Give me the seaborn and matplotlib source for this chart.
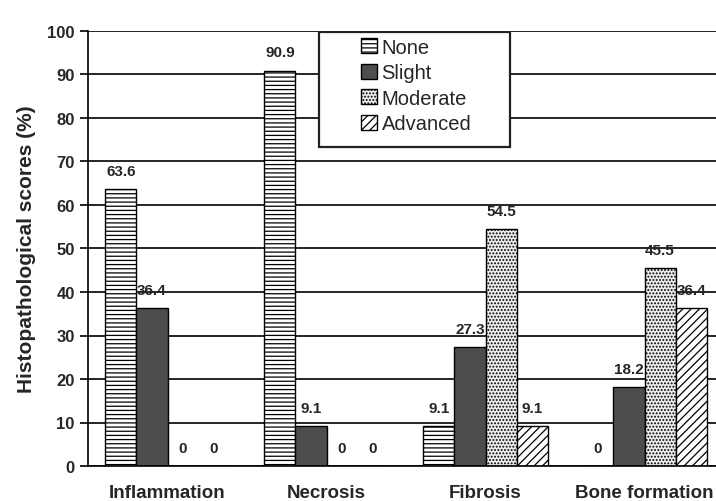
import numpy as np
import pandas as pd
import matplotlib
matplotlib.use("Agg")
import matplotlib.pyplot as plt
from matplotlib.patches import Rectangle
import seaborn as sns

categories = ["Inflammation", "Necrosis", "Fibrosis", "Bone formation"]
levels = ["None", "Slight", "Moderate", "Advanced"]
none_vals = [63.6, 90.9, 9.1, 0]
slight_vals = [36.4, 9.1, 27.3, 18.2]
moderate_vals = [0, 0, 54.5, 45.5]
advanced_vals = [0, 0, 9.1, 36.4]

df = pd.DataFrame({
    "category": categories * 4,
    "level": [l for l in levels for _ in categories],
    "score": none_vals + slight_vals + moderate_vals + advanced_vals,
})

sns.set_style("white")
plt.rcParams["font.family"] = ["Liberation Sans", "DejaVu Sans"]
plt.rcParams["hatch.linewidth"] = 0.9

fig = plt.figure(figsize=(7.16, 5.02), dpi=100)
ax = fig.add_axes([88 / 716, 35 / 502, 636 / 716, 435 / 502])

faces = {"None": "white", "Slight": "#4d4d4d", "Moderate": "#ebebeb", "Advanced": "white"}
hatches = {"None": "----", "Slight": "", "Moderate": ".....", "Advanced": "////"}

sns.barplot(data=df, x="category", y="score", hue="level", hue_order=levels,
            palette=faces, width=0.78, gap=0, edgecolor="black", linewidth=1.0,
            saturation=1, ax=ax, legend=True)

for cont, lev in zip(ax.containers, levels):
    for bar in cont:
        bar.set_hatch(hatches[lev])
        bar.set_facecolor(faces[lev])
    labels = [f"{v:g}" for v in df[df.level == lev]["score"]]
    ax.bar_label(cont, labels=labels, padding=8, fontsize=11, fontweight="bold")

ax.set_ylim(0, 100)
ax.set_yticks(np.arange(0, 101, 10))
ax.set_xlim(-0.5, 3.5)
ax.yaxis.grid(True, color="black", linewidth=1.2)
ax.set_axisbelow(True)
for s in ["top", "right"]:
    ax.spines[s].set_visible(False)
ax.spines["left"].set_color("black")
ax.spines["bottom"].set_color("black")
ax.spines["left"].set_linewidth(1.2)
ax.spines["bottom"].set_linewidth(1.2)

ax.set_xticks([0.5, 1.5, 2.5], minor=True)
ax.set_xticks(range(4))
ax.set_xticklabels(categories, fontsize=13.5, fontweight="bold")
ax.tick_params(axis="x", which="major", length=0, pad=13)
ax.tick_params(axis="x", which="minor", length=6, width=1.2, color="black", direction="out")
ax.tick_params(axis="y", length=6, width=1.2, color="black", direction="out", left=True,
               labelsize=12)
for t in ax.get_yticklabels():
    t.set_fontweight("bold")

ax.set_xlabel("")
ax.set_ylabel("Histopathological scores (%)", fontsize=15, fontweight="bold", labelpad=8)

# legend box is wider than its content in the original
ax.add_patch(Rectangle((0.363, 0.733), 0.3005, 0.265, transform=ax.transAxes,
                       facecolor="white", edgecolor="#222222", linewidth=1.6, zorder=5))
leg = ax.legend(loc="upper left", bbox_to_anchor=(0.43, 0.985), fontsize=14.5,
                frameon=False, handlelength=0.75, handleheight=0.75, handletextpad=0.25,
                borderpad=0, labelspacing=0.33, borderaxespad=0)
leg.set_zorder(6)
for h, lev in zip(leg.legend_handles, levels):
    h.set_hatch(hatches[lev])
    h.set_facecolor(faces[lev])
    h.set_edgecolor("black")

fig.savefig("out.png", dpi=100)
